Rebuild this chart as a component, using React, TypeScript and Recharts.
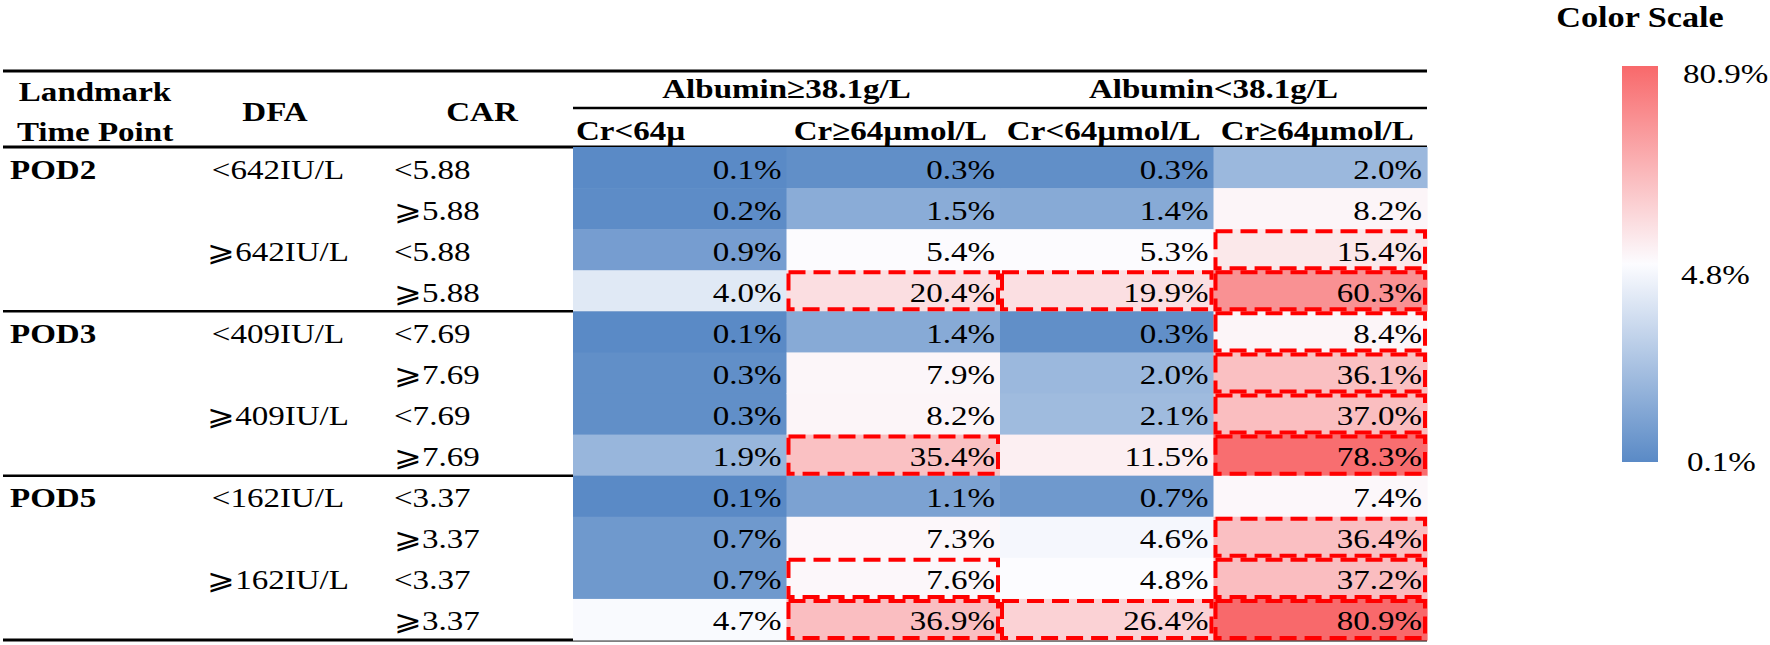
import React from 'react';
import { ScatterChart, Scatter, XAxis, YAxis, Customized } from 'recharts';

// ---------- data ----------
const columnHeaders = ['Cr<64µ', 'Cr≥64µmol/L', 'Cr<64µmol/L', 'Cr≥64µmol/L'];
const albuminGroups = ['Albumin≥38.1g/L', 'Albumin<38.1g/L'];
const landmarks = ['POD2', 'POD3', 'POD5'];
const dfaLabels = ['<642IU/L', '⩾642IU/L', '<409IU/L', '⩾409IU/L', '<162IU/L', '⩾162IU/L'];
const carLabels = ['<5.88', '⩾5.88', '<5.88', '⩾5.88', '<7.69', '⩾7.69', '<7.69', '⩾7.69', '<3.37', '⩾3.37', '<3.37', '⩾3.37'];

const albHighCrLow = [0.1, 0.2, 0.9, 4.0, 0.1, 0.3, 0.3, 1.9, 0.1, 0.7, 0.7, 4.7];
const albHighCrHigh = [0.3, 1.5, 5.4, 20.4, 1.4, 7.9, 8.2, 35.4, 1.1, 7.3, 7.6, 36.9];
const albLowCrLow = [0.3, 1.4, 5.3, 19.9, 0.3, 2.0, 2.1, 11.5, 0.7, 4.6, 4.8, 26.4];
const albLowCrHigh = [2.0, 8.2, 15.4, 60.3, 8.4, 36.1, 37.0, 78.3, 7.4, 36.4, 37.2, 80.9];

// highlighted (dashed red box) cells, row indexes per column
const boxedAlbHighCrLow: number[] = [];
const boxedAlbHighCrHigh = [3, 7, 10, 11];
const boxedAlbLowCrLow = [3, 11];
const boxedAlbLowCrHigh = [2, 3, 4, 5, 6, 7, 9, 10, 11];

const scaleLabels = ['80.9%', '4.8%', '0.1%'];
const scaleMin = 0.1;
const scaleMid = 4.8;
const scaleMax = 80.9;

// ---------- layout ----------
const W = 1770;
const H = 645;
const M = { top: 147, right: 343, bottom: 5, left: 573 };
const PW = W - M.left - M.right;
const PH = H - M.top - M.bottom;
const NCOL = 4;
const NROW = 12;
const CW = PW / NCOL;
const RH = PH / NROW;
const FONT = "'Liberation Serif', 'Times New Roman', 'DejaVu Serif', serif";
const SX = 1.18;

const allCols = [albHighCrLow, albHighCrHigh, albLowCrLow, albLowCrHigh];
const allBoxed = [boxedAlbHighCrLow, boxedAlbHighCrHigh, boxedAlbLowCrLow, boxedAlbLowCrHigh];

const cellData = allCols.flatMap((vals, c) => vals.map((v, r) => ({ x: c, y: r, v })));
const boxData = allBoxed.flatMap((rows, c) => rows.map((r) => ({ x: c, y: r })));

const BLUE = [90, 138, 198];
const WHITE = [252, 252, 255];
const RED = [248, 105, 107];
function mix(a: number[], b: number[], t: number) {
  const tt = Math.max(0, Math.min(1, t));
  return `rgb(${a.map((x, i) => Math.round(x + (b[i] - x) * tt)).join(',')})`;
}
function colorFor(v: number) {
  if (v <= scaleMid) return mix(BLUE, WHITE, (v - scaleMin) / (scaleMid - scaleMin));
  return mix(WHITE, RED, (v - scaleMid) / (scaleMax - scaleMid));
}

type TProps = {
  x: number;
  y: number;
  children: React.ReactNode;
  anchor?: 'start' | 'middle' | 'end';
  size?: number;
  bold?: boolean;
};
const T = ({ x, y, children, anchor = 'start', size = 28, bold = false }: TProps) => (
  <text
    transform={`translate(${x} ${y}) scale(${SX} 1)`}
    textAnchor={anchor}
    fontSize={size}
    fontWeight={bold ? 'bold' : 'normal'}
    fontFamily={FONT}
    fill="#000"
  >
    {children}
  </text>
);

const CellShape = (p: any) => {
  const { cx, cy, payload } = p;
  const x = cx - CW / 2;
  const y = cy - RH / 2;
  return (
    <g>
      <rect x={x} y={y} width={CW + 0.6} height={RH + 0.6} fill={colorFor(payload.v)} />
      <T x={x + CW - 5} y={cy + 11} anchor="end">
        {payload.v.toFixed(1)}%
      </T>
    </g>
  );
};

const BoxShape = (p: any) => {
  const { cx, cy } = p;
  const x = cx - CW / 2;
  const y = cy - RH / 2;
  return (
    <rect
      x={x + 2}
      y={y + 2}
      width={CW - 4}
      height={RH - 4}
      fill="none"
      stroke="#FF0000"
      strokeWidth={4}
      strokeDasharray="17 8"
    />
  );
};

const Overlay = () => {
  const rowY = (r: number) => M.top + RH * r;
  const left = 3;
  const right = M.left + PW;
  return (
    <g>
      {/* rules */}
      <line x1={left} x2={right} y1={71} y2={71} stroke="#000" strokeWidth={3} />
      <line x1={M.left} x2={right} y1={108} y2={108} stroke="#000" strokeWidth={2.5} />
      <line x1={left} x2={right} y1={M.top} y2={M.top} stroke="#000" strokeWidth={3} />
      <line x1={left} x2={right} y1={rowY(4)} y2={rowY(4)} stroke="#000" strokeWidth={2.5} />
      <line x1={left} x2={right} y1={rowY(8)} y2={rowY(8)} stroke="#000" strokeWidth={2.5} />
      <line x1={left} x2={right} y1={rowY(12)} y2={rowY(12)} stroke="#000" strokeWidth={3} />

      {/* header */}
      <T x={95} y={101} anchor="middle" bold>Landmark</T>
      <T x={95} y={141} anchor="middle" bold>Time Point</T>
      <T x={275} y={121} anchor="middle" bold>DFA</T>
      <T x={482} y={121} anchor="middle" bold>CAR</T>
      {albuminGroups.map((g, i) => (
        <T key={g} x={M.left + CW * (2 * i + 1)} y={98} anchor="middle" bold>
          {g}
        </T>
      ))}
      {columnHeaders.map((h, i) =>
        i === 0 ? (
          <T key={i} x={M.left + 3} y={140} bold>{h}</T>
        ) : (
          <T key={i} x={M.left + CW * (i + 0.5) - 3} y={140} anchor="middle" bold>{h}</T>
        )
      )}

      {/* row labels */}
      {landmarks.map((l, i) => (
        <T key={l} x={10} y={rowY(i * 4) + RH / 2 + 11} bold>{l}</T>
      ))}
      {dfaLabels.map((d, i) => (
        <T key={i} x={278} y={rowY(i * 2) + RH / 2 + 11} anchor="middle">{d}</T>
      ))}
      {carLabels.map((c, i) => (
        <T key={i} x={394} y={rowY(i) + RH / 2 + 11}>{c}</T>
      ))}

      {/* color scale legend */}
      <defs>
        <linearGradient id="scaleGrad" x1="0" y1="0" x2="0" y2="1">
          <stop offset="0%" stopColor="rgb(248,105,107)" />
          <stop offset="50%" stopColor="rgb(252,252,255)" />
          <stop offset="100%" stopColor="rgb(90,138,198)" />
        </linearGradient>
      </defs>
      <T x={1640} y={27} anchor="middle" size={29} bold>Color Scale</T>
      <rect x={1622} y={66} width={36} height={396} fill="url(#scaleGrad)" />
      <T x={1683} y={83}>{scaleLabels[0]}</T>
      <T x={1681} y={284}>{scaleLabels[1]}</T>
      <T x={1687} y={471}>{scaleLabels[2]}</T>
    </g>
  );
};

export default function App() {
  return (
    <div style={{ position: 'absolute', left: 0, top: 0, width: W, height: H, background: '#fff' }}>
      <ScatterChart width={W} height={H} margin={M}>
        <XAxis type="number" dataKey="x" domain={[-0.5, 3.5]} hide />
        <YAxis type="number" dataKey="y" domain={[-0.5, 11.5]} reversed hide />
        <Scatter data={cellData} shape={CellShape} isAnimationActive={false} />
        <Scatter data={boxData} shape={BoxShape} isAnimationActive={false} />
        <Customized component={Overlay} />
      </ScatterChart>
    </div>
  );
}
